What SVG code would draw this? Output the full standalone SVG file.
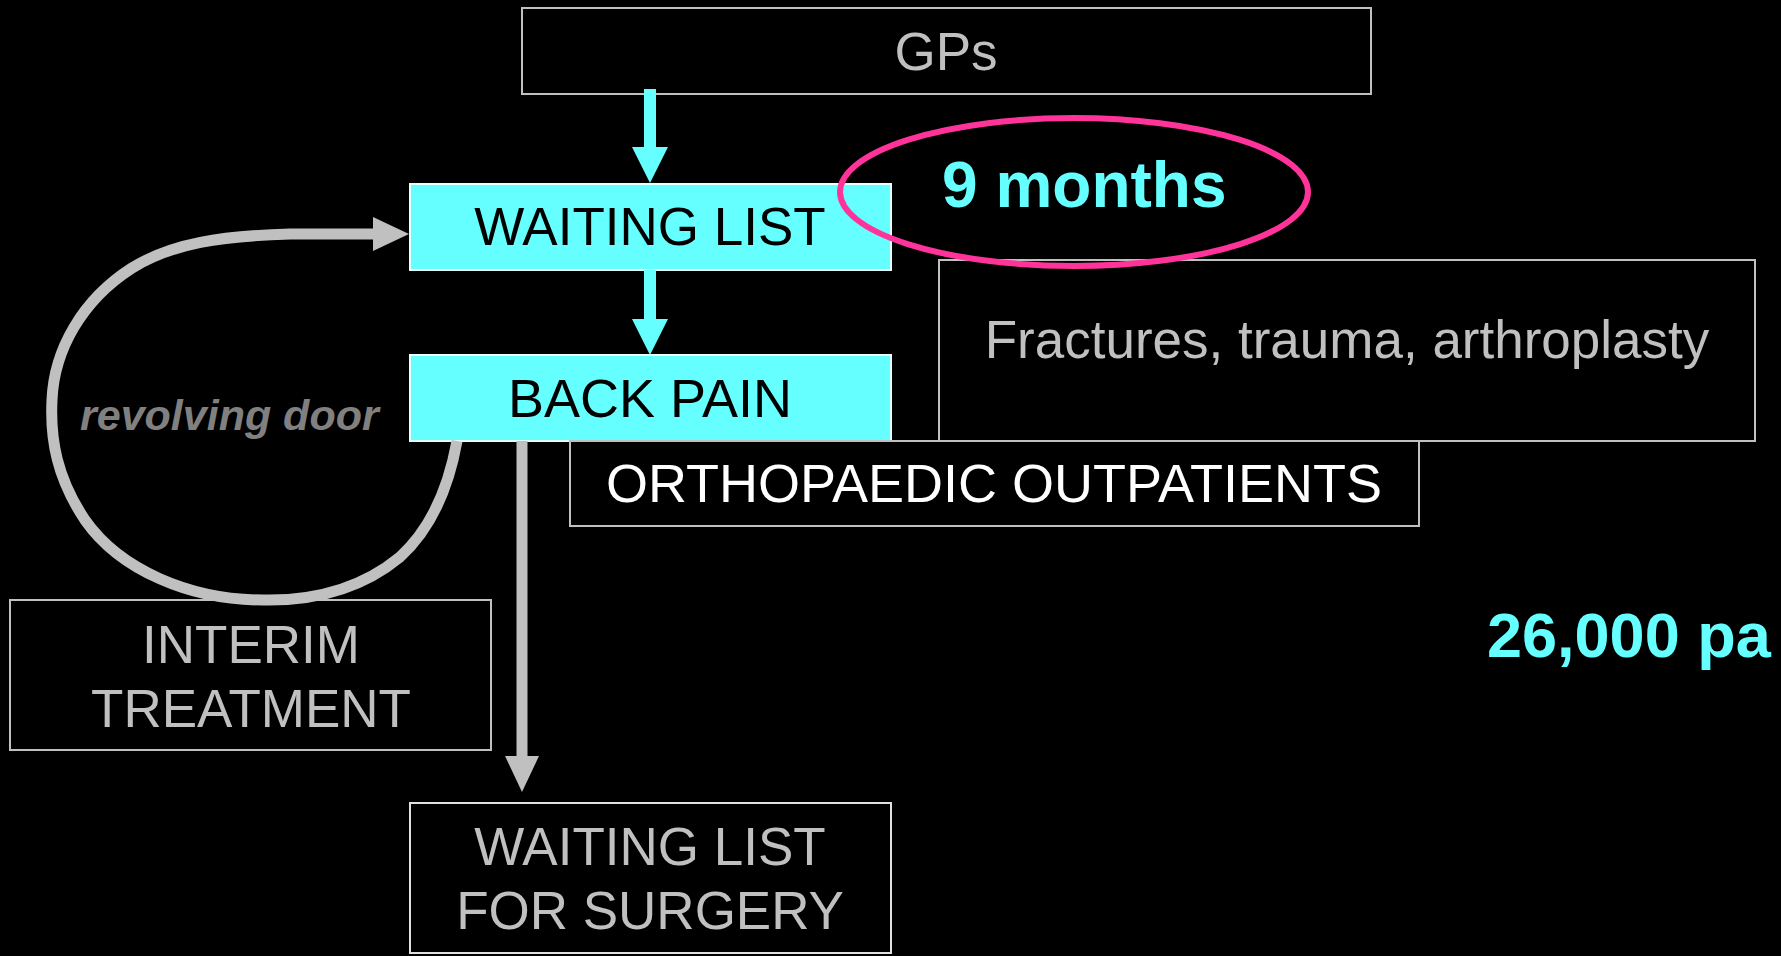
<svg xmlns="http://www.w3.org/2000/svg" width="1781" height="956" viewBox="0 0 1781 956">
<defs>
<style>
.box{fill:#000;stroke:#C0C0C0;stroke-width:2}
.cbox{fill:#66FFFF;stroke:#E6FFFF;stroke-width:2}
.t{font-family:"Liberation Sans",Arial,sans-serif;font-size:53px;text-anchor:middle}
.gray{fill:#C0C0C0}
.blk{fill:#000}
.wht{fill:#FFF}
.big{font-family:"Liberation Sans",Arial,sans-serif;font-weight:bold;fill:#66FFFF}
.cyanline{stroke:#66FFFF;stroke-width:12;fill:none}
.grayline{stroke:#C0C0C0;stroke-width:11;fill:none}
</style>
<marker id="cyanHead" markerUnits="userSpaceOnUse" markerWidth="36" markerHeight="36" viewBox="0 0 36 36" refX="1" refY="18" orient="auto"><path d="M0,0 L36,18 L0,36 z" fill="#66FFFF"/></marker>
<marker id="grayHead" markerUnits="userSpaceOnUse" markerWidth="36" markerHeight="34" viewBox="0 0 36 34" refX="1" refY="17" orient="auto"><path d="M0,0 L36,17 L0,34 z" fill="#C0C0C0"/></marker>
</defs>
<rect width="1781" height="956" fill="#000"/>
<g id="gps"><rect class="box" x="522" y="8" width="849" height="86"/><text class="t gray" x="946" y="70">GPs</text></g>
<g id="waiting-list"><rect class="cbox" x="410" y="184" width="481" height="86"/><text class="t blk" x="650" y="245">WAITING LIST</text></g>
<g id="back-pain"><rect class="cbox" x="410" y="355" width="481" height="86"/><text class="t blk" x="650" y="417" style="font-size:54px">BACK PAIN</text></g>
<g id="fractures"><rect class="box" x="939" y="260" width="816" height="181"/><text class="t gray" x="1347" y="358">Fractures, trauma, arthroplasty</text></g>
<g id="ortho"><rect class="box" x="570" y="441" width="849" height="85"/><text class="t wht" x="994" y="502" style="font-size:54px">ORTHOPAEDIC OUTPATIENTS</text></g>
<g id="interim"><rect class="box" x="10" y="600" width="481" height="150"/><text class="t gray" x="251" y="663">INTERIM</text><text class="t gray" x="251" y="727">TREATMENT</text></g>
<g id="surgery"><rect class="box" x="410" y="803" width="481" height="150" style="stroke:#E0E0E0"/><text class="t gray" x="650" y="865">WAITING LIST</text><text class="t gray" x="650" y="929">FOR SURGERY</text></g>
<g id="connectors">
<line class="cyanline" x1="650" y1="89" x2="650" y2="148" marker-end="url(#cyanHead)"/>
<line class="cyanline" x1="650" y1="270" x2="650" y2="320" marker-end="url(#cyanHead)"/>
<line class="grayline" x1="522" y1="441" x2="522" y2="757" marker-end="url(#grayHead)"/>
<path class="grayline" d="M457,441 C450,480 435,525 400,557 C360,590 310,601 263,600 C190,600 120,570 85,520 C57,478 50,440 52,400 C54,350 82,300 132,268 C172,243 222,236 290,234 L374,234" marker-end="url(#grayHead)"/>
</g>
<g id="revolving-label"><text x="80" y="430" font-family="Liberation Sans, Arial, sans-serif" font-size="43" font-weight="bold" font-style="italic" fill="#808080">revolving door</text></g>
<g id="nine-months"><ellipse cx="1074" cy="192" rx="234" ry="74" fill="none" stroke="#FF3399" stroke-width="6"/><text class="big" x="942" y="207" font-size="64">9 months</text></g>
<g id="patients"><text class="big" x="1487" y="657" font-size="63">26,000 pa</text></g>
</svg>
